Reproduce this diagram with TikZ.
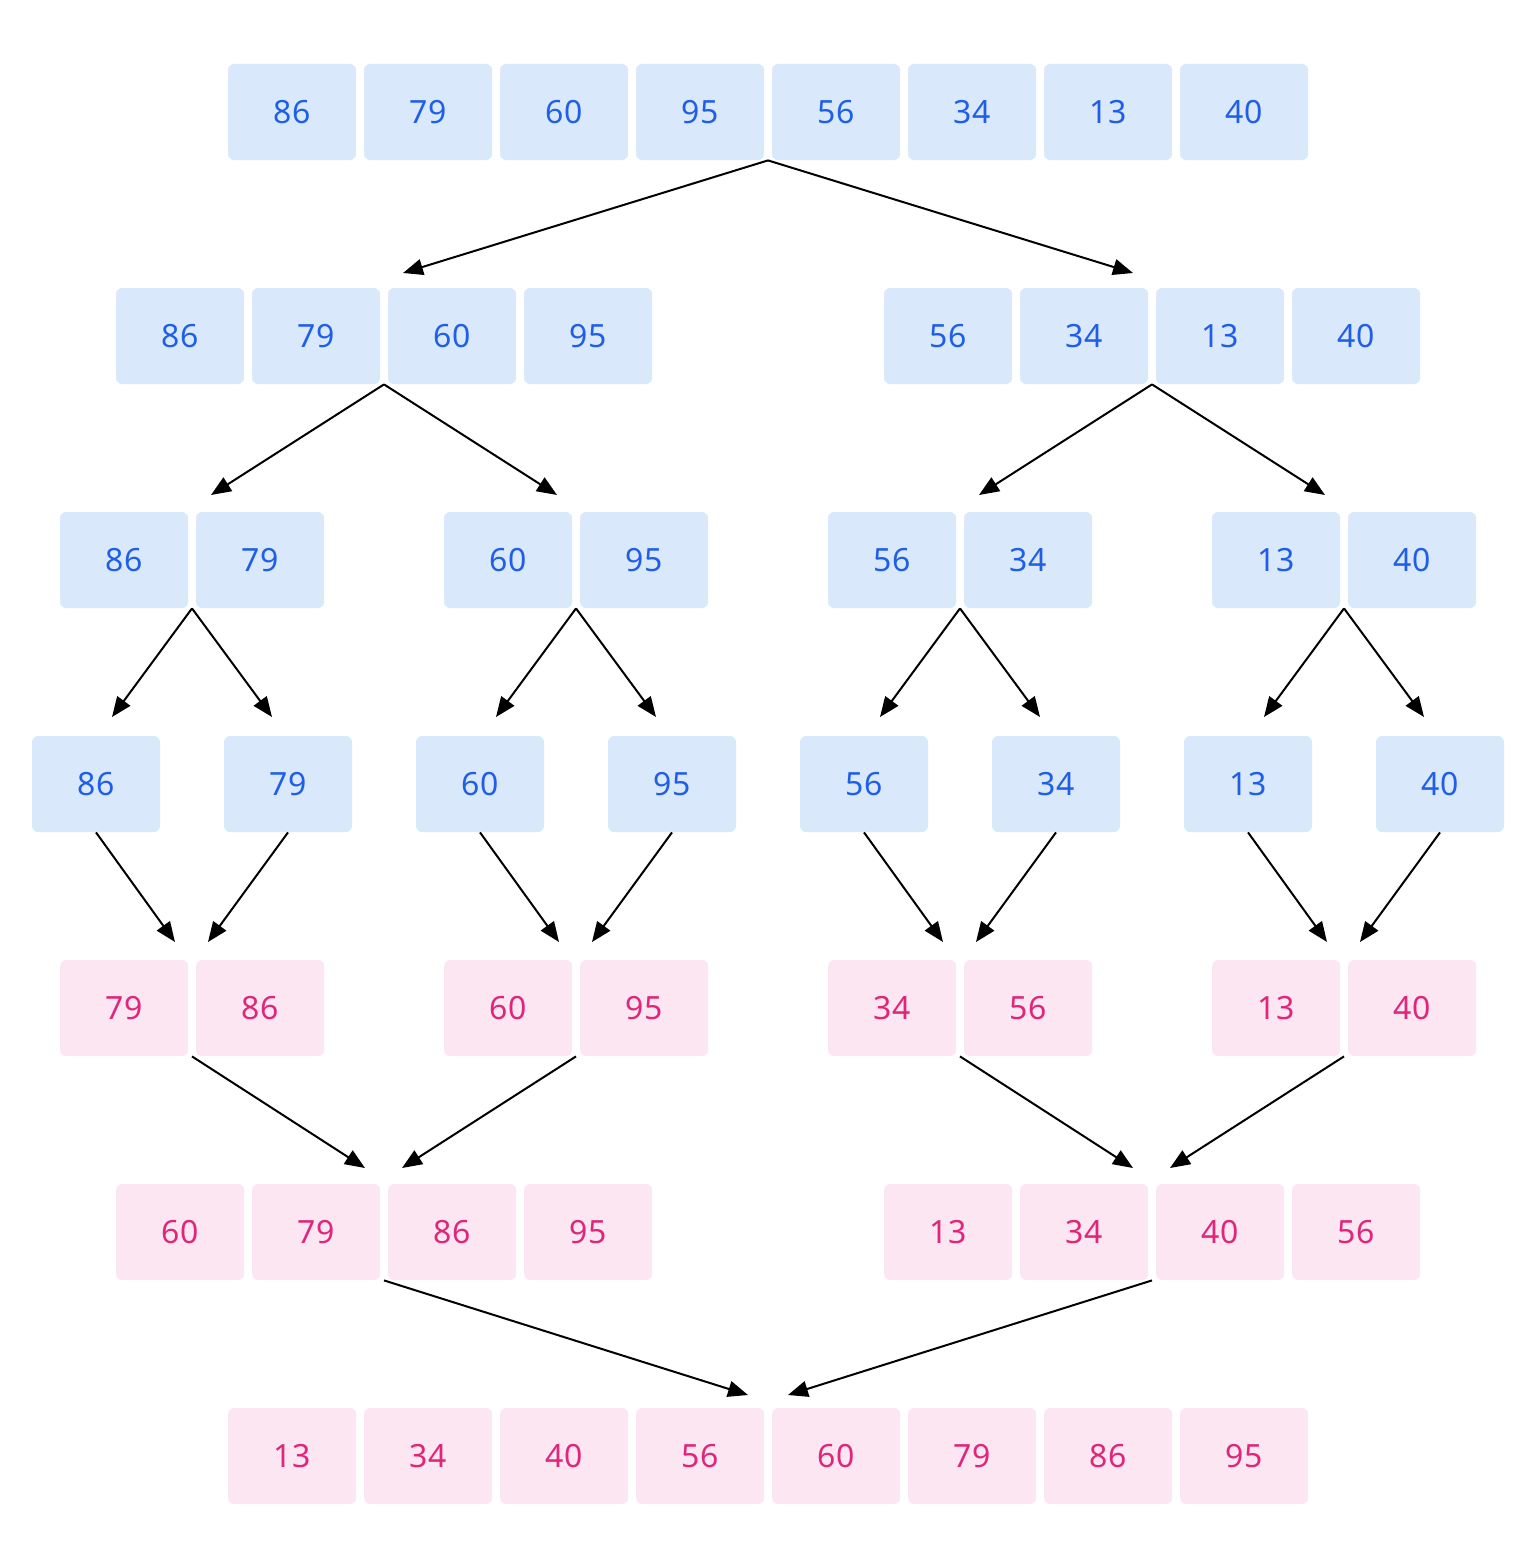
\documentclass[tikz,border=0pt]{standalone}
\usepackage{fontspec}
\setmainfont{Noto Sans}
\usetikzlibrary{arrows.meta,calc}
\definecolor{bfill}{HTML}{DAE8FC}
\definecolor{btext}{HTML}{1F5FE8}
\definecolor{pfill}{HTML}{FBE6F1}
\definecolor{ptext}{HTML}{E0267A}
\tikzset{
  cell/.style={rectangle, rounded corners=3pt, minimum width=64pt, minimum height=48pt, inner sep=0pt, font=\fontsize{16}{16}\selectfont},
  bluecell/.style={cell, fill=bfill, text=btext},
  pinkcell/.style={cell, fill=pfill, text=ptext},
  conn/.style={draw=black, line width=1pt, -{Triangle[length=10pt,width=8pt]}}
}
\begin{document}
\begin{tikzpicture}[x=0.5pt,y=-0.5pt]
\useasboundingbox (0,0) rectangle (1536,1568);
% row 1
\foreach \x/\v [count=\i] in {292/86,428/79,564/60,700/95,836/56,972/34,1108/13,1244/40}
  \node[bluecell] (a\i) at (\x,112) {\v};
% row 2
\foreach \x/\v [count=\i] in {180/86,316/79,452/60,588/95,948/56,1084/34,1220/13,1356/40}
  \node[bluecell] (b\i) at (\x,336) {\v};
% row 3
\foreach \x/\v [count=\i] in {124/86,260/79,508/60,644/95,892/56,1028/34,1276/13,1412/40}
  \node[bluecell] (c\i) at (\x,560) {\v};
% row 4
\foreach \x/\v [count=\i] in {96/86,288/79,480/60,672/95,864/56,1056/34,1248/13,1440/40}
  \node[bluecell] (d\i) at (\x,784) {\v};
% row 5
\foreach \x/\v [count=\i] in {124/79,260/86,508/60,644/95,892/34,1028/56,1276/13,1412/40}
  \node[pinkcell] (e\i) at (\x,1008) {\v};
% row 6
\foreach \x/\v [count=\i] in {180/60,316/79,452/86,588/95,948/13,1084/34,1220/40,1356/56}
  \node[pinkcell] (f\i) at (\x,1232) {\v};
% row 7
\foreach \x/\v [count=\i] in {292/13,428/34,564/40,700/56,836/60,972/79,1108/86,1244/95}
  \node[pinkcell] (g\i) at (\x,1456) {\v};

% sources
\coordinate (sa) at ($(a4.south east)!0.5!(a5.south west)$);
\coordinate (sb1) at ($(b2.south east)!0.5!(b3.south west)$);
\coordinate (sb2) at ($(b6.south east)!0.5!(b7.south west)$);
\coordinate (sc1) at ($(c1.south east)!0.5!(c2.south west)$);
\coordinate (sc2) at ($(c3.south east)!0.5!(c4.south west)$);
\coordinate (sc3) at ($(c5.south east)!0.5!(c6.south west)$);
\coordinate (sc4) at ($(c7.south east)!0.5!(c8.south west)$);
\coordinate (se1) at ($(e1.south east)!0.5!(e2.south west)$);
\coordinate (se2) at ($(e3.south east)!0.5!(e4.south west)$);
\coordinate (se3) at ($(e5.south east)!0.5!(e6.south west)$);
\coordinate (se4) at ($(e7.south east)!0.5!(e8.south west)$);
\coordinate (sf1) at ($(f2.south east)!0.5!(f3.south west)$);
\coordinate (sf2) at ($(f6.south east)!0.5!(f7.south west)$);

% tips
\coordinate (ta1) at (403,273);  \coordinate (ta2) at (1133,273);
\coordinate (tb1) at (211,495);  \coordinate (tb2) at (557,495);
\coordinate (tb3) at (979,495);  \coordinate (tb4) at (1325,495);
\coordinate (tc1) at (112,717);  \coordinate (tc2) at (272,717);
\coordinate (tc3) at (496,717);  \coordinate (tc4) at (656,717);
\coordinate (tc5) at (880,717);  \coordinate (tc6) at (1040,717);
\coordinate (tc7) at (1264,717); \coordinate (tc8) at (1424,717);
\coordinate (td1) at (175,942);  \coordinate (td2) at (208,942);
\coordinate (td3) at (559,942);  \coordinate (td4) at (592,942);
\coordinate (td5) at (943,942);  \coordinate (td6) at (976,942);
\coordinate (td7) at (1327,942); \coordinate (td8) at (1360,942);
\coordinate (te1) at (365,1168); \coordinate (te2) at (402,1168);
\coordinate (te3) at (1133,1168);\coordinate (te4) at (1170,1168);
\coordinate (tf1) at (748,1395); \coordinate (tf2) at (788,1395);

\draw[conn] (sa) -- (ta1);
\draw[conn] (sa) -- (ta2);
\draw[conn] (sb1) -- (tb1);
\draw[conn] (sb1) -- (tb2);
\draw[conn] (sb2) -- (tb3);
\draw[conn] (sb2) -- (tb4);
\draw[conn] (sc1) -- (tc1);
\draw[conn] (sc1) -- (tc2);
\draw[conn] (sc2) -- (tc3);
\draw[conn] (sc2) -- (tc4);
\draw[conn] (sc3) -- (tc5);
\draw[conn] (sc3) -- (tc6);
\draw[conn] (sc4) -- (tc7);
\draw[conn] (sc4) -- (tc8);
\foreach \i in {1,...,8} \draw[conn] (d\i.south) -- (td\i);
\draw[conn] (se1) -- (te1);
\draw[conn] (se2) -- (te2);
\draw[conn] (se3) -- (te3);
\draw[conn] (se4) -- (te4);
\draw[conn] (sf1) -- (tf1);
\draw[conn] (sf2) -- (tf2);
\end{tikzpicture}
\end{document}
